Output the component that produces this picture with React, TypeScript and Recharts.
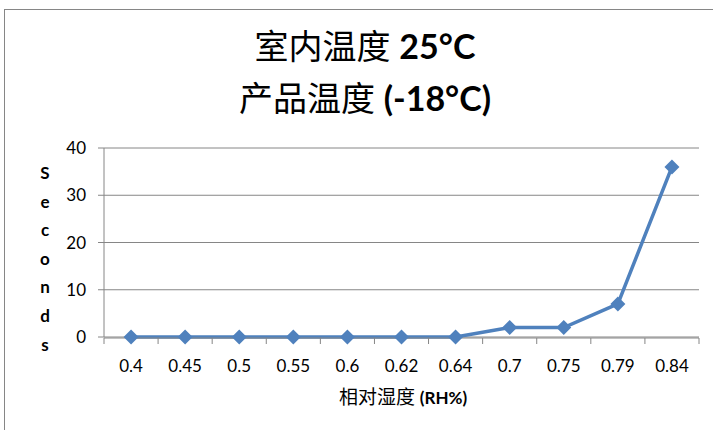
import { CartesianGrid, Line, LineChart, XAxis, YAxis } from 'recharts'

const categories = ['0.4', '0.45', '0.5', '0.55', '0.6', '0.62', '0.64', '0.7', '0.75', '0.79', '0.84']
const seconds = [0, 0, 0, 0, 0, 0, 0, 2, 2, 7, 36]
const yTicks = [0, 10, 20, 30, 40]
const yLabel = 'Seconds'

const data = categories.map((label, idx) => ({ idx, label, seconds: seconds[idx] }))
const centerTicks = categories.map((_, i) => i)
const boundaryTicks = [...categories.map((_, i) => i - 0.5), categories.length - 0.5]
const xDomain = [-0.5, categories.length - 0.5]

const axisGray = '#868686'
const blue = '#4F81BD'
const font = 'Lato, "Noto Sans CJK SC", sans-serif'

function Diamond(props: any) {
  const { cx, cy } = props
  if (cx == null || cy == null) return null
  const r = 7.5
  return (
    <path
      d={`M${cx},${cy - r} L${cx + r},${cy} L${cx},${cy + r} L${cx - r},${cy} Z`}
      fill={blue}
    />
  )
}

function YLetters() {
  return (
    <text x={45} y={179} textAnchor="middle" fontSize={17} fontWeight={700} fill="#000" fontFamily={font}>
      {yLabel.split('').map((ch, i) => (
        <tspan key={i} x={45} dy={i === 0 ? 0 : 28.6}>
          {ch}
        </tspan>
      ))}
    </text>
  )
}

function XTitle() {
  return (
    <text x={403} y={404} textAnchor="middle" fontSize={19} fill="#000" fontFamily={font}>
      <tspan>相对湿度 </tspan>
      <tspan fontWeight={700} fontSize={17}>(RH%)</tspan>
    </text>
  )
}

function HumidityChart() {
  return (
    <div style={{ position: 'fixed', left: 0, top: 0, width: 713, height: 430, overflow: 'hidden', background: '#fff', fontFamily: font }}>
      <div style={{ position: 'absolute', left: 4, top: 9, width: 900, height: 600, border: `1px solid ${axisGray}` }} />
      <div style={{ position: 'absolute', left: 0, top: 20, width: 730, textAlign: 'center', fontSize: 34, lineHeight: '52px', color: '#000' }}>
        <div>
          室内温度 <b>25°C</b>
        </div>
        <div>
          产品温度 <b>(-18°C)</b>
        </div>
      </div>
      <LineChart
        width={713}
        height={430}
        data={data}
        margin={{ top: 148, right: 14, bottom: 52, left: 74 }}
        style={{ position: 'absolute', left: 0, top: 0 }}
      >
        <CartesianGrid vertical={false} stroke={axisGray} xAxisId="labels" />
        <XAxis
          xAxisId="labels"
          type="number"
          dataKey="idx"
          domain={xDomain}
          allowDataOverflow
          ticks={centerTicks}
          interval={0}
          tickFormatter={(v: number) => categories[v] ?? ''}
          tickLine={false}
          axisLine={false}
          tickSize={0}
          tickMargin={23}
          height={1}
          tick={{ fill: '#000', fontSize: 17, fontFamily: font }}
          label={<XTitle />}
        />
        <XAxis
          xAxisId="marks"
          type="number"
          dataKey="idx"
          domain={xDomain}
          allowDataOverflow
          ticks={boundaryTicks}
          tickFormatter={() => ''}
          tickSize={6}
          height={40}
          stroke={axisGray}
        />
        <YAxis
          width={30}
          domain={[0, 40]}
          ticks={yTicks}
          tickSize={6}
          tickMargin={12}
          stroke={axisGray}
          tick={{ fill: '#000', fontSize: 17, fontFamily: font }}
          label={<YLetters />}
        />
        <Line
          xAxisId="labels"
          type="linear"
          dataKey="seconds"
          stroke={blue}
          strokeWidth={3.5}
          dot={<Diamond />}
          activeDot={false}
          isAnimationActive={false}
        />
      </LineChart>
    </div>
  )
}

export default function App() {
  return <HumidityChart />
}
